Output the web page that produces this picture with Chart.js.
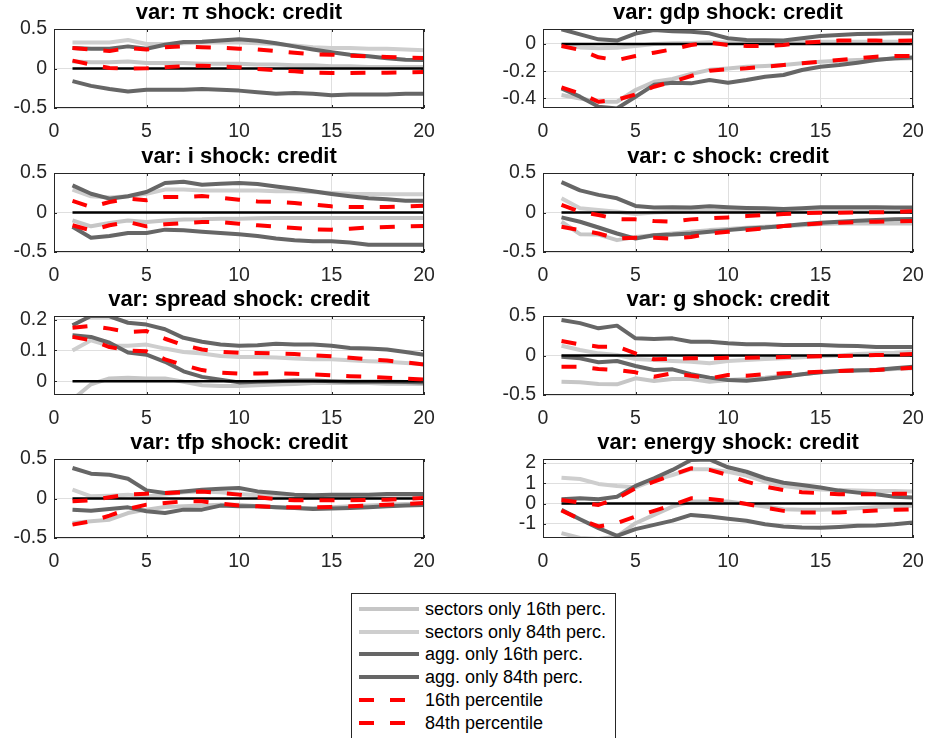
<!DOCTYPE html>
<html>
<head>
<meta charset="utf-8">
<script src="https://cdn.jsdelivr.net/npm/chart.js@4.4.1/dist/chart.umd.min.js"></script>
<style>
  html, body { margin:0; padding:0; background:#fff; }
  body { width:927px; height:738px; overflow:hidden; position:relative; font-family:"Liberation Sans", Arial, sans-serif; }
  canvas.panel { position:absolute; }
  #legend { position:absolute; left:351px; top:593px; width:265px; height:170px; border:1px solid #262626; box-sizing:border-box; background:#fff; }
  .lg-item { position:absolute; left:0; height:22px; width:265px; }
  .lg-item svg { position:absolute; left:7px; top:0; }
  .lg-item span { position:absolute; left:73px; top:0; line-height:22px; font-size:18px; color:#000; white-space:nowrap; }
</style>
</head>
<body>
<canvas class="panel" id="c0" width="438" height="143" style="left:0px;top:0px"></canvas>
<canvas class="panel" id="c1" width="438" height="143" style="left:489px;top:0px"></canvas>
<canvas class="panel" id="c2" width="438" height="143" style="left:0px;top:144px"></canvas>
<canvas class="panel" id="c3" width="438" height="143" style="left:489px;top:144px"></canvas>
<canvas class="panel" id="c4" width="438" height="143" style="left:0px;top:287px"></canvas>
<canvas class="panel" id="c5" width="438" height="143" style="left:489px;top:287px"></canvas>
<canvas class="panel" id="c6" width="438" height="143" style="left:0px;top:430px"></canvas>
<canvas class="panel" id="c7" width="438" height="143" style="left:489px;top:430px"></canvas>
<div id="legend"></div>
<script>
// ---------------- DATA ----------------
const horizon = [1,2,3,4,5,6,7,8,9,10,11,12,13,14,15,16,17,18,19,20];
const xTicks = [0,5,10,15,20];

const legendLabels = ["sectors only 16th perc.","sectors only 84th perc.","agg. only 16th perc.","agg. only 84th perc.","16th percentile","84th percentile"];
const titles = ["var: π shock: credit","var: gdp shock: credit","var: i shock: credit","var: c shock: credit",
                "var: spread shock: credit","var: g shock: credit","var: tfp shock: credit","var: energy shock: credit"];

// pi
const piSec16 = [0.09,0.08,0.08,0.09,0.07,0.07,0.07,0.06,0.06,0.06,0.05,0.05,0.04,0.04,0.03,0.03,0.02,0.02,0.02,0.02];
const piSec84 = [0.33,0.33,0.33,0.36,0.31,0.31,0.32,0.33,0.33,0.33,0.32,0.31,0.29,0.27,0.26,0.26,0.25,0.25,0.24,0.23];
const piAgg16 = [-0.16,-0.22,-0.26,-0.29,-0.27,-0.27,-0.27,-0.26,-0.27,-0.28,-0.30,-0.32,-0.31,-0.32,-0.34,-0.33,-0.33,-0.33,-0.32,-0.32];
const piAgg84 = [0.26,0.25,0.25,0.28,0.25,0.30,0.335,0.34,0.355,0.37,0.35,0.32,0.28,0.24,0.205,0.175,0.155,0.13,0.11,0.108];
const piP16 = [0.10,0.05,0.006,-0.002,0.002,0.015,0.03,0.035,0.027,0.015,-0.006,-0.023,-0.036,-0.05,-0.057,-0.057,-0.055,-0.053,-0.05,-0.045];
const piP84 = [0.26,0.24,0.22,0.26,0.24,0.27,0.28,0.27,0.264,0.25,0.24,0.22,0.20,0.18,0.175,0.16,0.155,0.145,0.137,0.133];

// gdp
const gdpSec16 = [-0.375,-0.40,-0.424,-0.424,-0.338,-0.277,-0.257,-0.22,-0.19,-0.18,-0.167,-0.162,-0.154,-0.142,-0.13,-0.124,-0.118,-0.113,-0.108,-0.105];
const gdpSec84 = [-0.007,-0.025,-0.032,-0.027,-0.015,0,0.005,0.008,0.012,0.01,0.012,0.014,0.015,0.016,0.017,0.017,0.017,0.017,0.017,0.017];
const gdpAgg16 = [-0.326,-0.387,-0.46,-0.473,-0.387,-0.30,-0.284,-0.289,-0.265,-0.284,-0.265,-0.24,-0.228,-0.191,-0.167,-0.154,-0.137,-0.118,-0.105,-0.10];
const gdpAgg84 = [0.108,0.071,0.034,0.025,0.076,0.103,0.093,0.09,0.078,0.042,0.03,0.027,0.025,0.042,0.059,0.066,0.074,0.076,0.078,0.078];
const gdpP16 = [-0.319,-0.363,-0.424,-0.41,-0.37,-0.314,-0.277,-0.235,-0.196,-0.186,-0.179,-0.167,-0.154,-0.142,-0.13,-0.118,-0.105,-0.093,-0.088,-0.088];
const gdpP84 = [-0.015,-0.044,-0.098,-0.118,-0.088,-0.064,-0.039,-0.007,0.01,-0.007,-0.015,-0.015,-0.007,0.01,0.017,0.025,0.025,0.025,0.023,0.025];

// i
const iSec16 = [-0.10,-0.175,-0.133,-0.10,-0.12,-0.10,-0.09,-0.087,-0.078,-0.078,-0.074,-0.07,-0.07,-0.07,-0.07,-0.07,-0.07,-0.07,-0.07,-0.07];
const iSec84 = [0.29,0.205,0.19,0.205,0.238,0.29,0.29,0.28,0.28,0.28,0.28,0.27,0.27,0.26,0.247,0.238,0.235,0.23,0.23,0.23];
const iAgg16 = [-0.18,-0.32,-0.297,-0.26,-0.26,-0.217,-0.226,-0.243,-0.26,-0.276,-0.297,-0.33,-0.352,-0.365,-0.365,-0.38,-0.407,-0.407,-0.407,-0.407];
const iAgg84 = [0.344,0.238,0.175,0.205,0.26,0.373,0.39,0.352,0.365,0.373,0.36,0.33,0.30,0.268,0.234,0.205,0.18,0.167,0.15,0.15];
const iP16 = [-0.162,-0.226,-0.162,-0.12,-0.175,-0.15,-0.133,-0.12,-0.12,-0.141,-0.162,-0.18,-0.196,-0.213,-0.217,-0.205,-0.19,-0.184,-0.175,-0.171];
const iP84 = [0.146,0.07,0.133,0.175,0.154,0.196,0.196,0.209,0.188,0.162,0.14,0.133,0.12,0.10,0.078,0.07,0.07,0.07,0.078,0.087];

// c
const cSec16 = [-0.117,-0.274,-0.28,-0.35,-0.31,-0.287,-0.266,-0.245,-0.223,-0.21,-0.194,-0.18,-0.172,-0.16,-0.147,-0.138,-0.138,-0.138,-0.138,-0.138];
const cSec84 = [0.18,0.053,0.032,0.01,-0.02,0,0.01,0.02,0.023,0.023,0.023,0.023,0.023,0.023,0.023,0.025,0.027,0.028,0.03,0.032];
const cAgg16 = [-0.062,-0.117,-0.19,-0.266,-0.33,-0.287,-0.28,-0.266,-0.245,-0.223,-0.202,-0.19,-0.172,-0.15,-0.13,-0.117,-0.104,-0.096,-0.087,-0.083];
const cAgg84 = [0.385,0.28,0.223,0.18,0.083,0.062,0.066,0.062,0.079,0.066,0.057,0.053,0.045,0.053,0.066,0.066,0.066,0.066,0.062,0.062];
const cP16 = [-0.18,-0.223,-0.266,-0.33,-0.32,-0.32,-0.33,-0.31,-0.266,-0.245,-0.223,-0.202,-0.172,-0.155,-0.138,-0.13,-0.121,-0.117,-0.113,-0.108];
const cP84 = [0.096,0.01,-0.032,-0.083,-0.087,-0.108,-0.117,-0.087,-0.074,-0.062,-0.045,-0.032,-0.019,-0.01,-0.002,-0.002,0.002,0.002,0.006,0.015];

// spread
const spSec16 = [-0.06,-0.01,0.009,0.011,0.009,0.009,-0.002,-0.013,-0.016,-0.016,-0.013,-0.011,-0.009,-0.006,-0.006,-0.006,-0.006,-0.008,-0.008,-0.009];
const spSec84 = [0.10,0.133,0.115,0.115,0.119,0.106,0.095,0.09,0.082,0.079,0.079,0.077,0.074,0.071,0.071,0.068,0.065,0.063,0.059,0.055];
const spAgg16 = [0.149,0.144,0.125,0.093,0.086,0.063,0.032,0.014,0.005,-0.004,-0.002,0,0.002,0.002,0,-0.002,-0.002,-0.002,-0.003,-0.004];
const spAgg84 = [0.182,0.212,0.211,0.19,0.184,0.169,0.141,0.128,0.119,0.115,0.117,0.122,0.119,0.119,0.115,0.108,0.106,0.103,0.095,0.086];
const spP16 = [0.144,0.133,0.111,0.10,0.097,0.071,0.052,0.036,0.028,0.025,0.025,0.026,0.024,0.022,0.019,0.016,0.014,0.011,0.008,0.005];
const spP84 = [0.174,0.18,0.171,0.16,0.163,0.138,0.117,0.103,0.095,0.092,0.092,0.09,0.088,0.084,0.081,0.076,0.071,0.067,0.061,0.054];

// g
const gSec16 = [-0.331,-0.34,-0.36,-0.365,-0.289,-0.323,-0.297,-0.297,-0.331,-0.31,-0.297,-0.28,-0.255,-0.238,-0.213,-0.196,-0.184,-0.184,-0.171,-0.162];
const gSec84 = [0.124,0.07,0.027,0.006,-0.044,-0.057,-0.07,-0.078,-0.099,-0.07,-0.057,-0.044,-0.036,-0.023,-0.01,0,0.019,0.027,0.035,0.049];
const gAgg16 = [-0.015,-0.036,-0.086,-0.07,-0.133,-0.184,-0.175,-0.238,-0.28,-0.31,-0.319,-0.297,-0.268,-0.238,-0.213,-0.196,-0.19,-0.184,-0.162,-0.141];
const gAgg84 = [0.45,0.41,0.344,0.378,0.217,0.209,0.217,0.175,0.175,0.154,0.141,0.141,0.133,0.133,0.133,0.124,0.12,0.108,0.108,0.108];
const gP16 = [-0.141,-0.141,-0.171,-0.184,-0.213,-0.268,-0.226,-0.255,-0.289,-0.247,-0.255,-0.238,-0.226,-0.213,-0.205,-0.196,-0.188,-0.184,-0.171,-0.154];
const gP84 = [0.184,0.141,0.112,0.112,0.027,-0.049,-0.044,-0.036,-0.036,-0.027,-0.027,-0.023,-0.019,-0.015,-0.01,-0.006,-0.002,0.006,0.01,0.019];

// tfp
const tfpSec16 = [-0.31,-0.289,-0.268,-0.184,-0.141,-0.108,-0.099,-0.09,-0.078,-0.078,-0.099,-0.112,-0.12,-0.12,-0.112,-0.099,-0.09,-0.078,-0.07,-0.065];
const tfpSec84 = [0.112,0.027,0.036,0.049,0.027,0.049,0.078,0.09,0.078,0.057,0.04,0.027,0.015,0.015,0.027,0.027,0.027,0.027,0.03,0.04];
const tfpAgg16 = [-0.141,-0.154,-0.133,-0.112,-0.162,-0.184,-0.141,-0.141,-0.09,-0.099,-0.099,-0.112,-0.12,-0.133,-0.128,-0.12,-0.112,-0.099,-0.09,-0.082];
const tfpAgg84 = [0.386,0.314,0.30,0.25,0.103,0.07,0.09,0.112,0.124,0.133,0.09,0.07,0.049,0.04,0.049,0.049,0.049,0.057,0.057,0.057];
const tfpP16 = [-0.331,-0.289,-0.217,-0.133,-0.078,-0.057,-0.036,-0.036,-0.065,-0.09,-0.099,-0.108,-0.112,-0.112,-0.108,-0.099,-0.09,-0.078,-0.07,-0.057];
const tfpP84 = [-0.036,-0.023,0.015,0.049,0.061,0.07,0.078,0.09,0.07,0.049,0.015,-0.006,-0.023,-0.023,-0.023,-0.023,-0.019,-0.015,-0.006,0.006];

// energy
const enSec16 = [-1.46,-1.70,-1.75,-1.62,-0.97,-0.56,-0.15,0.10,0.10,0.10,-0.02,-0.15,-0.28,-0.31,-0.31,-0.28,-0.23,-0.18,-0.15,-0.11];
const enSec84 = [1.28,1.21,0.97,0.87,0.80,1.16,1.41,1.70,1.69,1.57,1.38,1.08,0.87,0.75,0.70,0.67,0.64,0.62,0.62,0.59];
const enAgg16 = [-0.31,-0.77,-1.21,-1.59,-1.26,-1.05,-0.84,-0.56,-0.64,-0.75,-0.85,-1.02,-1.13,-1.18,-1.20,-1.16,-1.10,-1.08,-1.02,-0.93];
const enAgg84 = [0.21,0.26,0.21,0.34,0.87,1.25,1.66,2.15,2.18,1.79,1.57,1.25,1.03,0.92,0.79,0.64,0.54,0.46,0.34,0.30];
const enP16 = [-0.34,-0.77,-1.13,-0.97,-0.64,-0.36,-0.07,0.26,0.23,0.13,-0.02,-0.20,-0.36,-0.44,-0.44,-0.44,-0.39,-0.34,-0.31,-0.28];
const enP84 = [0.18,0.05,-0.07,0.26,0.75,1.08,1.41,1.74,1.66,1.41,1.08,0.84,0.67,0.56,0.51,0.46,0.46,0.46,0.48,0.48];

// y-axis limits and tick labels per panel
const yLimits = [[-0.5,0.5],[-0.47,0.11],[-0.5,0.5],[-0.5,0.5],[-0.045,0.212],[-0.5,0.5],[-0.5,0.5],[-1.7,2.2]];
const yTicks = [[-0.5,0,0.5],[-0.4,-0.2,0],[-0.5,0,0.5],[-0.5,0,0.5],[0,0.1,0.2],[-0.5,0,0.5],[-0.5,0,0.5],[-1,0,1,2]];

const panels = [
  [piSec16,piSec84,piAgg16,piAgg84,piP16,piP84],
  [gdpSec16,gdpSec84,gdpAgg16,gdpAgg84,gdpP16,gdpP84],
  [iSec16,iSec84,iAgg16,iAgg84,iP16,iP84],
  [cSec16,cSec84,cAgg16,cAgg84,cP16,cP84],
  [spSec16,spSec84,spAgg16,spAgg84,spP16,spP84],
  [gSec16,gSec84,gAgg16,gAgg84,gP16,gP84],
  [tfpSec16,tfpSec84,tfpAgg16,tfpAgg84,tfpP16,tfpP84],
  [enSec16,enSec84,enAgg16,enAgg84,enP16,enP84]
];
const zeroLine = [0,0,0,0,0,0,0,0,0,0,0,0,0,0,0,0,0,0,0,0];

// ---------------- STYLE ----------------
const FONT = "'Liberation Sans', Arial, sans-serif";
const AXIS_COLOR = '#262626';
const GRID_COLOR = '#dfdfdf';
const styles = [
  {color:'#c6c6c6', width:4, dash:[], order:4},
  {color:'#cecece', width:4, dash:[], order:3},
  {color:'#666666', width:4, dash:[], order:2},
  {color:'#666666', width:4, dash:[], order:2},
  {color:'#ff0000', width:4, dash:[15,16], order:0},
  {color:'#ff0000', width:4, dash:[15,16], order:0}
];
const Y_AXIS_W = 54, X_AXIS_H = 35, RIGHT_PAD = 14;

const framePlugin = {
  id:'frame',
  afterDatasetsDraw(chart){
    const {ctx, chartArea:a, scales} = chart;
    ctx.save();
    ctx.strokeStyle = AXIS_COLOR;
    ctx.lineWidth = 1;
    ctx.strokeRect(a.left+0.5, a.top+0.5, a.right-a.left-1, a.bottom-a.top-1);
    const tl = 3;
    ctx.beginPath();
    scales.x.ticks.forEach(t=>{
      const px = Math.round(scales.x.getPixelForValue(t.value))+0.5;
      ctx.moveTo(px, a.bottom); ctx.lineTo(px, a.bottom-tl);
      ctx.moveTo(px, a.top); ctx.lineTo(px, a.top+tl);
    });
    scales.y.ticks.forEach(t=>{
      const py = Math.round(scales.y.getPixelForValue(t.value))+0.5;
      ctx.moveTo(a.left, py); ctx.lineTo(a.left+tl, py);
      ctx.moveTo(a.right, py); ctx.lineTo(a.right-tl, py);
    });
    ctx.stroke();
    ctx.restore();
  }
};

function toPoints(arr){ return horizon.map((h,i)=>({x:h, y:arr[i]})); }

panels.forEach((series, p)=>{
  const datasets = series.map((arr,k)=>({
    label: legendLabels[k],
    data: toPoints(arr),
    borderColor: styles[k].color,
    borderWidth: styles[k].width,
    borderDash: styles[k].dash,
    borderCapStyle: 'butt',
    borderJoinStyle: 'round',
    pointRadius: 0,
    fill: false,
    tension: 0,
    order: styles[k].order,
    clip: 0
  }));
  datasets.push({
    label:'zero', data: toPoints(zeroLine), borderColor:'#000000', borderWidth:2.5,
    pointRadius:0, fill:false, tension:0, order:1, clip:0
  });
  new Chart(document.getElementById('c'+p), {
    type:'line',
    data:{ datasets },
    plugins:[framePlugin],
    options:{
      responsive:false, animation:false, devicePixelRatio:1,
      layout:{ padding:0 },
      plugins:{
        legend:{display:false}, tooltip:{enabled:false},
        title:{ display:true, fullSize:false, text:titles[p], color:'#000',
          font:{family:FONT, size:22, weight:'bold', lineHeight:1.2},
          padding:{top:0, bottom:2.6} }
      },
      scales:{
        x:{
          type:'linear', min:0, max:20,
          afterBuildTicks: s=>{ s.ticks = xTicks.map(v=>({value:v})); },
          afterFit: s=>{ s.height = X_AXIS_H; s.paddingLeft = 0; s.paddingRight = RIGHT_PAD; },
          grid:{ color:GRID_COLOR, lineWidth:1, drawTicks:false },
          border:{ display:false },
          ticks:{ color:AXIS_COLOR, font:{family:FONT, size:19.5}, padding:12, maxRotation:0, minRotation:0, autoSkip:false,
                  callback: v=>String(v) }
        },
        y:{
          type:'linear', min:yLimits[p][0], max:yLimits[p][1],
          afterBuildTicks: s=>{ s.ticks = yTicks[p].map(v=>({value:v})); },
          afterFit: s=>{ s.width = Y_AXIS_W; },
          grid:{ color:GRID_COLOR, lineWidth:1, drawTicks:false },
          border:{ display:false },
          ticks:{ color:AXIS_COLOR, font:{family:FONT, size:19.5}, padding:7, autoSkip:false,
                  callback: v=>String(v) }
        }
      }
    }
  });
});

// ---------------- LEGEND (HTML) ----------------
const legend = document.getElementById('legend');
legendLabels.forEach((lab,k)=>{
  const item = document.createElement('div');
  item.className = 'lg-item';
  item.style.top = (4 + k*22.7) + 'px';
  const dash = styles[k].dash.length ? `stroke-dasharray="${styles[k].dash.join(',')}"` : '';
  item.innerHTML = `<svg width="60" height="22"><line x1="0" y1="11" x2="60" y2="11" stroke="${styles[k].color}" stroke-width="4" ${dash}/></svg><span>${lab}</span>`;
  legend.appendChild(item);
});
</script>
</body>
</html>
